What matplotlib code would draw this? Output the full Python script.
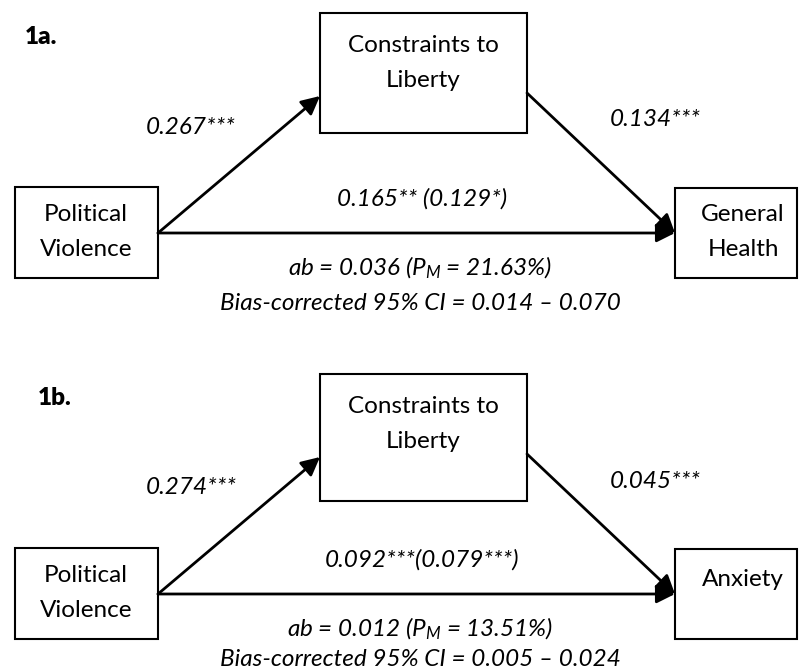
import matplotlib.pyplot as plt
from matplotlib.patches import Rectangle

plt.rcParams['font.family'] = ['Lato', 'DejaVu Sans']
plt.rcParams['mathtext.fontset'] = 'custom'
plt.rcParams['mathtext.it'] = 'Lato:italic'
plt.rcParams['mathtext.rm'] = 'Lato'

# model content
panels = ['1a.', '1b.']
predictor = 'Political\nViolence'
mediator = 'Constraints to\nLiberty'
outcomes = ['General\nHealth', 'Anxiety']
a_paths = ['0.267***', '0.274***']
b_paths = ['0.134***', '0.045***']
c_paths = ['0.165** (0.129*)', '0.092***(0.079***)']
ab_vals = ['0.036', '0.012']
pm_vals = ['21.63%', '13.51%']
ci_vals = ['0.014 \u2013 0.070', '0.005 \u2013 0.024']

# layout in pixel units (y down)
y0 = [0, 361]
lab_x = [25, 38]
med_h = [120, 127]
ci_y = [304, 299]

fig = plt.figure(figsize=(8, 6.7), dpi=100)
ax = fig.add_axes([0, 0, 1, 1])
ax.set_xlim(0, 800)
ax.set_ylim(670, 0)
ax.axis('off')

fs = 17.5
ls = 1.85
arrow = dict(arrowstyle='-|>', color='black', lw=2, mutation_scale=28,
             shrinkA=0, shrinkB=0)

for i in range(2):
    o = y0[i]
    ax.text(lab_x[i], o + 37, panels[i], fontsize=fs, fontweight='heavy',
            va='center', ha='left')

    # boxes
    ax.add_patch(Rectangle((320, o + 13), 207, med_h[i], fill=False, lw=1.5))
    ax.add_patch(Rectangle((15, o + 187), 143, 91, fill=False, lw=1.5))
    ax.add_patch(Rectangle((675, o + 188), 122, 90, fill=False, lw=1.5))

    ax.text(423, o + 63, mediator, fontsize=fs, ha='center', va='center',
            linespacing=ls)
    ax.text(86, o + 232, predictor, fontsize=fs, ha='center', va='center',
            linespacing=ls)
    if '\n' in outcomes[i]:
        ax.text(743, o + 232, outcomes[i], fontsize=fs, ha='center',
                va='center', linespacing=ls)
    else:
        ax.text(743, o + 219, outcomes[i], fontsize=fs, ha='center',
                va='center')

    # arrows
    ax.annotate('', xy=(320, o + 96), xytext=(158, o + 233), arrowprops=arrow)
    ax.annotate('', xy=(675, o + 233), xytext=(527, o + 93), arrowprops=arrow)
    ax.annotate('', xy=(675, o + 233), xytext=(158, o + 233), arrowprops=arrow)

    # coefficients
    ax.text(191, o + 127, a_paths[i], fontsize=fs, style='italic',
            ha='center', va='center')
    ax.text(655, o + 120, b_paths[i], fontsize=fs, style='italic',
            ha='center', va='center')
    ax.text(422, o + 199, c_paths[i], fontsize=fs, style='italic',
            ha='center', va='center')
    ax.text(420, o + 268, 'ab = ' + ab_vals[i] + ' ($P_{M}$ = ' + pm_vals[i] + ')',
            fontsize=fs, style='italic', ha='center', va='center')
    ax.text(420, o + ci_y[i], 'Bias-corrected 95% CI = ' + ci_vals[i],
            fontsize=fs, style='italic', ha='center', va='center')

fig.savefig('out.png', dpi=100)
